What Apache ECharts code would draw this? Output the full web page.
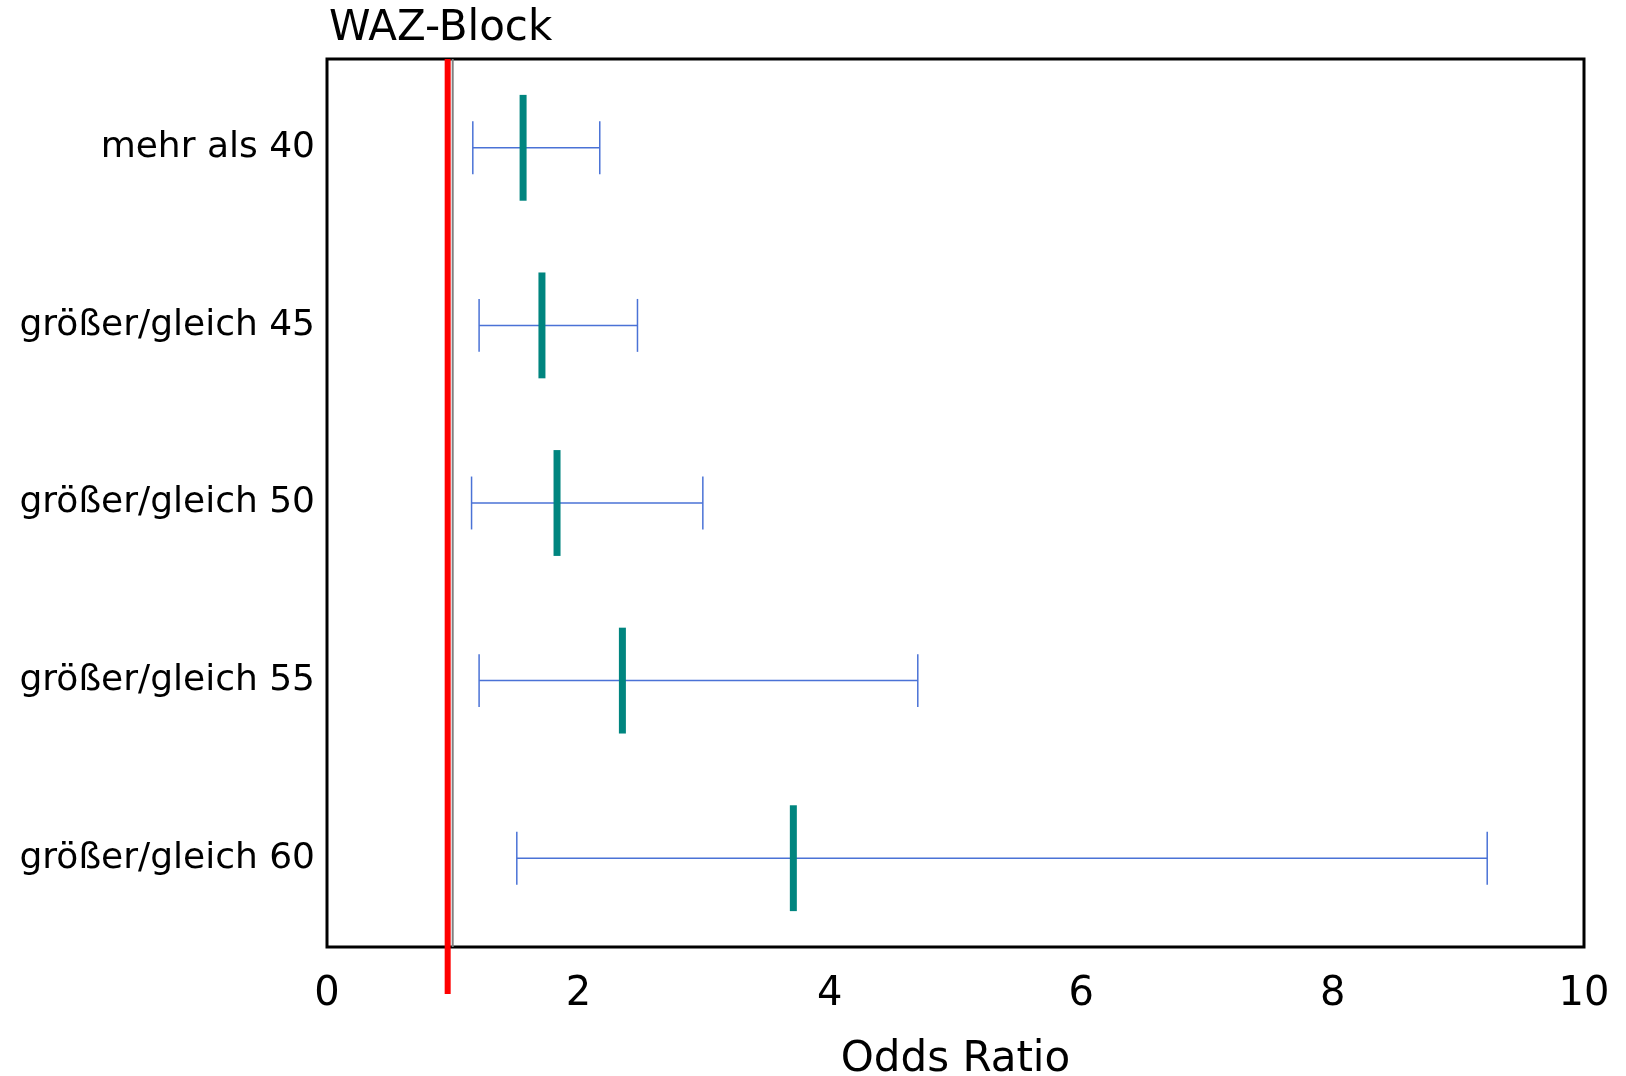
<!DOCTYPE html>
<html>
<head>
<meta charset="utf-8">
<title>WAZ-Block – Odds Ratio</title>
<script src="https://cdn.jsdelivr.net/npm/echarts@6/dist/echarts.min.js"></script>
<style>
  html, body { margin: 0; padding: 0; background: #ffffff; }
  #chart { width: 1626px; height: 1076px; }
</style>
</head>
<body>
<div id="chart"></div>
<script>
// Waist-circumference thresholds (top to bottom)
const categories = ['mehr als 40', 'größer/gleich 45', 'größer/gleich 50', 'größer/gleich 55', 'größer/gleich 60'];
// Point estimates of the odds ratio
const oddsRatio = [1.56, 1.71, 1.83, 2.35, 3.71];
// 95% confidence limits
const ciLower = [1.16, 1.21, 1.15, 1.21, 1.51];
const ciUpper = [2.17, 2.47, 2.99, 4.70, 9.23];
// Vertical reference lines
const referenceLine = [1.0];
const highlightLine = [0.96];
// x-axis ticks
const xTicks = [0, 2, 4, 6, 8, 10];

const FONT = 'DejaVu Sans';
const whiskerColor = '#4a72d6';
const estimateColor = '#00857f';

const intervalData = categories.map((c, i) => [ciLower[i], oddsRatio[i], ciUpper[i], i]);

function renderInterval(params, api) {
  const idx = api.value(3);
  const lo = api.coord([api.value(0), idx]);
  const est = api.coord([api.value(1), idx]);
  const hi = api.coord([api.value(2), idx]);
  const band = api.size([0, 1])[1];
  const cap = band * 0.149;
  const mark = band * 0.298;
  const lineStyle = { stroke: whiskerColor, lineWidth: 1.5 };
  return {
    type: 'group',
    children: [
      { type: 'line', shape: { x1: lo[0], y1: lo[1], x2: hi[0], y2: hi[1] }, style: lineStyle },
      { type: 'line', shape: { x1: lo[0], y1: lo[1] - cap, x2: lo[0], y2: lo[1] + cap }, style: lineStyle },
      { type: 'line', shape: { x1: hi[0], y1: hi[1] - cap, x2: hi[0], y2: hi[1] + cap }, style: lineStyle },
      { type: 'rect', shape: { x: est[0] - 3.5, y: est[1] - mark, width: 7, height: mark * 2 }, style: { fill: estimateColor } }
    ]
  };
}

function verticalLine(color, width, extendBelow) {
  return function (params, api) {
    const x = api.coord([api.value(0), 0])[0];
    const cs = params.coordSys;
    return {
      type: 'line',
      shape: { x1: x, y1: cs.y, x2: x, y2: cs.y + cs.height + extendBelow },
      style: { stroke: color, lineWidth: width }
    };
  };
}

const chart = echarts.init(document.getElementById('chart'), null, { renderer: 'canvas' });
chart.setOption({
  animation: false,
  backgroundColor: '#ffffff',
  title: {
    text: 'WAZ-Block',
    left: 324,
    top: 3,
    textStyle: { fontFamily: FONT, fontSize: 42, fontWeight: 'normal', color: '#000' }
  },
  grid: {
    left: 327, right: 42, top: 59, bottom: 129,
    outerBoundsMode: 'none',
    containLabel: false,
    show: true, borderColor: '#000', borderWidth: 3, backgroundColor: 'transparent'
  },
  xAxis: {
    type: 'value',
    min: xTicks[0],
    max: xTicks[xTicks.length - 1],
    interval: xTicks[1] - xTicks[0],
    name: 'Odds Ratio',
    nameLocation: 'middle',
    nameGap: 92,
    nameTextStyle: { fontFamily: FONT, fontSize: 42, color: '#000' },
    axisLine: { show: false },
    axisTick: { show: false },
    splitLine: { show: false },
    axisLabel: { fontFamily: FONT, fontSize: 40, color: '#000', margin: 28 }
  },
  yAxis: {
    type: 'category',
    data: categories,
    inverse: true,
    axisLine: { show: false },
    axisTick: { show: false },
    splitLine: { show: false },
    axisLabel: { fontFamily: FONT, fontSize: 36, color: '#000', margin: 12 }
  },
  series: [
    {
      type: 'custom',
      name: 'Referenz',
      data: referenceLine.map(v => [v, 0]),
      encode: { x: 0, y: 1 },
      renderItem: verticalLine('#808080', 2, 0),
      z: 2
    },
    {
      type: 'custom',
      name: 'Linie',
      data: highlightLine.map(v => [v, 0]),
      encode: { x: 0, y: 1 },
      renderItem: verticalLine('#ff0000', 6, 47),
      clip: false,
      z: 3
    },
    {
      type: 'custom',
      name: 'Odds Ratio',
      data: intervalData,
      encode: { x: [0, 1, 2], y: 3 },
      renderItem: renderInterval,
      z: 4
    }
  ]
});
</script>
</body>
</html>
